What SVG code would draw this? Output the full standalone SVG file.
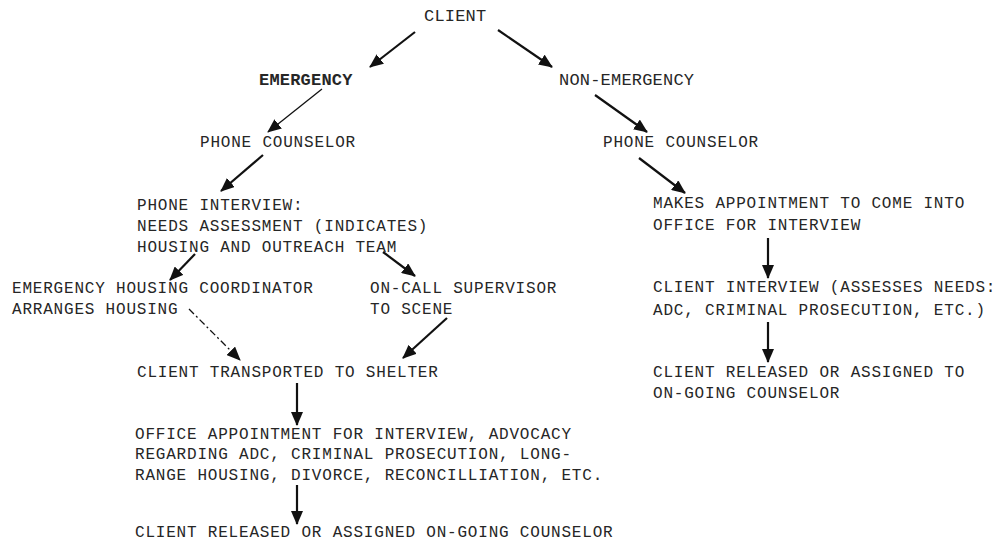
<svg xmlns="http://www.w3.org/2000/svg" width="997" height="544" viewBox="0 0 997 544">
<style>
  text { font-family: "Liberation Mono", "DejaVu Sans Mono", monospace; font-size: 16px; letter-spacing: 0.8px; fill: #262626; }
  .top { font-size: 17px; letter-spacing: 0.2px; }
  .bold { font-weight: bold; }
  .conn { stroke: #111; stroke-width: 2.2; fill: none; marker-end: url(#ah); }
  .thin { stroke-width: 1.3; }
  .dash { stroke-width: 1.3; stroke-dasharray: 7 3 2 3; }
</style>
<defs>
  <marker id="ah" markerUnits="userSpaceOnUse" markerWidth="14" markerHeight="12" refX="13" refY="6" orient="auto">
    <path d="M0,0 L14,6 L0,12 z" fill="#111"/>
  </marker>
</defs>
<rect width="997" height="544" fill="#fff"/>

<g id="client"><text class="top" x="424" y="21">CLIENT</text></g>
<g id="emergency"><text class="top bold" x="259" y="85">EMERGENCY</text></g>
<g id="non-emergency"><text class="top" x="559" y="85">NON-EMERGENCY</text></g>
<g id="phone-counselor-left"><text x="200" y="147">PHONE COUNSELOR</text></g>
<g id="phone-counselor-right"><text x="603" y="147">PHONE COUNSELOR</text></g>

<g id="phone-interview">
  <text x="137" y="210">PHONE INTERVIEW:</text>
  <text x="137" y="231">NEEDS ASSESSMENT (INDICATES)</text>
  <text x="137" y="252">HOUSING AND OUTREACH TEAM</text>
</g>
<g id="housing-coordinator">
  <text x="12" y="293">EMERGENCY HOUSING COORDINATOR</text>
  <text x="12" y="314">ARRANGES HOUSING</text>
</g>
<g id="on-call-supervisor">
  <text x="370" y="293">ON-CALL SUPERVISOR</text>
  <text x="370" y="314">TO SCENE</text>
</g>
<g id="transported"><text x="137" y="377">CLIENT TRANSPORTED TO SHELTER</text></g>
<g id="office-appointment">
  <text x="135" y="439">OFFICE APPOINTMENT FOR INTERVIEW, ADVOCACY</text>
  <text x="135" y="459">REGARDING ADC, CRIMINAL PROSECUTION, LONG-</text>
  <text x="135" y="480">RANGE HOUSING, DIVORCE, RECONCILLIATION, ETC.</text>
</g>
<g id="released-left"><text x="135" y="537">CLIENT RELEASED OR ASSIGNED ON-GOING COUNSELOR</text></g>

<g id="makes-appointment">
  <text x="653" y="208">MAKES APPOINTMENT TO COME INTO</text>
  <text x="653" y="230">OFFICE FOR INTERVIEW</text>
</g>
<g id="client-interview">
  <text x="653" y="292">CLIENT INTERVIEW (ASSESSES NEEDS:</text>
  <text x="653" y="315">ADC, CRIMINAL PROSECUTION, ETC.)</text>
</g>
<g id="released-right">
  <text x="653" y="377">CLIENT RELEASED OR ASSIGNED TO</text>
  <text x="653" y="398">ON-GOING COUNSELOR</text>
</g>

<g id="connectors">
  <line class="conn" x1="415" y1="32" x2="370" y2="67"/>
  <line class="conn" x1="498" y1="30" x2="552" y2="67"/>
  <line class="conn thin" x1="322" y1="89" x2="268" y2="132"/>
  <line class="conn" x1="263" y1="155" x2="221" y2="191"/>
  <line class="conn" x1="595" y1="95" x2="647" y2="132"/>
  <line class="conn" x1="639" y1="158" x2="685" y2="193"/>
  <line class="conn" x1="768" y1="238" x2="768" y2="278"/>
  <line class="conn" x1="768" y1="322" x2="768" y2="362"/>
  <line class="conn" x1="195" y1="254" x2="170" y2="280"/>
  <line class="conn" x1="383" y1="252" x2="415" y2="276"/>
  <line class="conn dash" x1="189" y1="309" x2="240" y2="360"/>
  <line class="conn" x1="447" y1="318" x2="403" y2="358"/>
  <line class="conn" x1="297" y1="383" x2="297" y2="425"/>
  <line class="conn" x1="297" y1="485" x2="297" y2="524"/>
</g>
</svg>
